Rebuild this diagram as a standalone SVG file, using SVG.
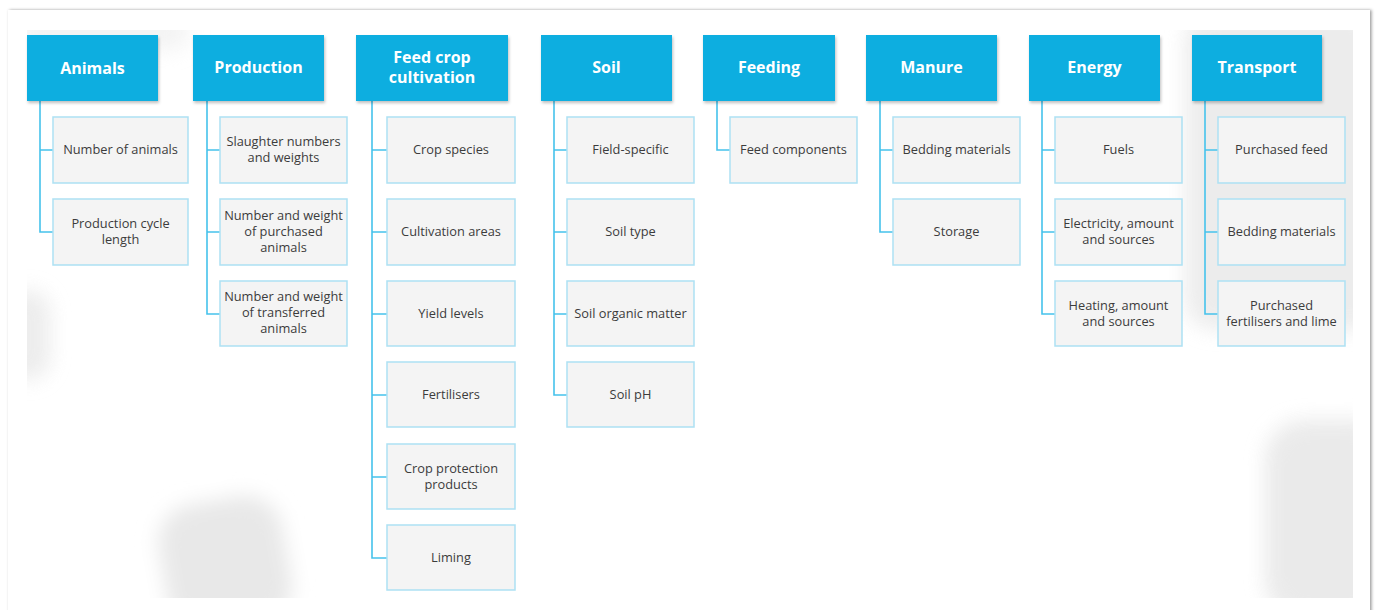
<svg xmlns="http://www.w3.org/2000/svg" width="1376" height="610" viewBox="0 0 1376 610">
<defs>
<style>
.hdr{fill:#0aaee0;filter:url(#hs)}
.ht{font-family:"Open Sans","Liberation Sans",sans-serif;font-weight:700;font-size:16px;fill:#ffffff;text-anchor:middle}
.box{fill:#f4f4f4;stroke:#ade1f3;stroke-width:1.5}
.bt{font-family:"Open Sans","Liberation Sans",sans-serif;font-size:12.8px;fill:#3c3c3c;text-anchor:middle}
.con{fill:none;stroke:#45c2ec;stroke-width:1.6}
.blob{fill:#e8e8e8;filter:url(#bl)}
</style>
<filter id="hs" x="-10%" y="-10%" width="130%" height="140%">
<feDropShadow dx="1" dy="2" stdDeviation="1.5" flood-color="#000" flood-opacity="0.25"/>
</filter>
<filter id="cs" x="-2%" y="-2%" width="104%" height="104%">
<feDropShadow dx="1.5" dy="0" stdDeviation="1.5" flood-color="#000" flood-opacity="0.4"/>
</filter>
<filter id="bl" x="-50%" y="-50%" width="200%" height="200%">
<feGaussianBlur stdDeviation="10"/>
</filter>
<clipPath id="inner"><rect x="27" y="30" width="1326" height="568"/></clipPath>
</defs>
<rect x="0" y="0" width="1376" height="610" fill="#ffffff"/>
<rect x="8" y="10" width="1362" height="620" fill="#ffffff" filter="url(#cs)"/>
<g id="background" clip-path="url(#inner)">
<rect x="20" y="10" width="170" height="40" rx="20" class="blob" opacity="0.5"/>
<rect x="5" y="290" width="45" height="90" rx="22" class="blob" opacity="0.8"/>
<rect x="162" y="500" width="125" height="130" rx="38" class="blob" transform="rotate(-10 222 560)"/>
<rect x="1265" y="420" width="130" height="200" rx="40" class="blob" opacity="0.9"/>
<rect x="1185" y="10" width="200" height="320" rx="30" class="blob" opacity="0.8"/>
</g>
<g id="connectors">
<path class="con" d="M40 101V232H53M40 150H53"/>
<path class="con" d="M207 101V314H220M207 150H220M207 232H220"/>
<path class="con" d="M372 101V558H387M372 150H387M372 232H387M372 314H387M372 395H387M372 477H387"/>
<path class="con" d="M554 101V395H567M554 150H567M554 232H567M554 314H567"/>
<path class="con" d="M717 101V150H730"/>
<path class="con" d="M880 101V232H893M880 150H893"/>
<path class="con" d="M1042 101V314H1055M1042 150H1055M1042 232H1055"/>
<path class="con" d="M1205 101V314H1218M1205 150H1218M1205 232H1218"/>
</g>
<g id="animals">
<rect class="hdr" x="27" y="35" width="131" height="66"/>
<text class="ht" x="92.5" y="74">Animals</text>
<rect class="box" x="53" y="117" width="135" height="66"/>
<text class="bt" x="120.5" y="154">Number of animals</text>
<rect class="box" x="53" y="199" width="135" height="66"/>
<text class="bt" x="120.5" y="228">Production cycle</text>
<text class="bt" x="120.5" y="244">length</text>
</g>
<g id="production">
<rect class="hdr" x="193" y="35" width="131" height="66"/>
<text class="ht" x="258.5" y="73">Production</text>
<rect class="box" x="220" y="117" width="127" height="66"/>
<text class="bt" x="283.5" y="146">Slaughter numbers</text>
<text class="bt" x="283.5" y="162">and weights</text>
<rect class="box" x="220" y="199" width="127" height="66"/>
<text class="bt" x="283.5" y="220">Number and weight</text>
<text class="bt" x="283.5" y="236">of purchased</text>
<text class="bt" x="283.5" y="252">animals</text>
<rect class="box" x="220" y="281" width="127" height="65"/>
<text class="bt" x="283.5" y="301">Number and weight</text>
<text class="bt" x="283.5" y="317">of transferred</text>
<text class="bt" x="283.5" y="333">animals</text>
</g>
<g id="feed-crop-cultivation">
<rect class="hdr" x="356" y="35" width="152" height="66"/>
<text class="ht" x="432" y="63">Feed crop</text>
<text class="ht" x="432" y="83">cultivation</text>
<rect class="box" x="387" y="117" width="128" height="66"/>
<text class="bt" x="451" y="154">Crop species</text>
<rect class="box" x="387" y="199" width="128" height="66"/>
<text class="bt" x="451" y="236">Cultivation areas</text>
<rect class="box" x="387" y="281" width="128" height="65"/>
<text class="bt" x="451" y="318">Yield levels</text>
<rect class="box" x="387" y="362" width="128" height="65"/>
<text class="bt" x="451" y="399">Fertilisers</text>
<rect class="box" x="387" y="444" width="128" height="65"/>
<text class="bt" x="451" y="473">Crop protection</text>
<text class="bt" x="451" y="489">products</text>
<rect class="box" x="387" y="525" width="128" height="65"/>
<text class="bt" x="451" y="562">Liming</text>
</g>
<g id="soil">
<rect class="hdr" x="541" y="35" width="131" height="66"/>
<text class="ht" x="606.5" y="73">Soil</text>
<rect class="box" x="567" y="117" width="127" height="66"/>
<text class="bt" x="630.5" y="154">Field-specific</text>
<rect class="box" x="567" y="199" width="127" height="66"/>
<text class="bt" x="630.5" y="236">Soil type</text>
<rect class="box" x="567" y="281" width="127" height="65"/>
<text class="bt" x="630.5" y="318">Soil organic matter</text>
<rect class="box" x="567" y="362" width="127" height="65"/>
<text class="bt" x="630.5" y="399">Soil pH</text>
</g>
<g id="feeding">
<rect class="hdr" x="703" y="35" width="132" height="66"/>
<text class="ht" x="769" y="73">Feeding</text>
<rect class="box" x="730" y="117" width="127" height="66"/>
<text class="bt" x="793.5" y="154">Feed components</text>
</g>
<g id="manure">
<rect class="hdr" x="866" y="35" width="131" height="66"/>
<text class="ht" x="931.5" y="73">Manure</text>
<rect class="box" x="893" y="117" width="127" height="66"/>
<text class="bt" x="956.5" y="154">Bedding materials</text>
<rect class="box" x="893" y="199" width="127" height="66"/>
<text class="bt" x="956.5" y="236">Storage</text>
</g>
<g id="energy">
<rect class="hdr" x="1029" y="35" width="131" height="66"/>
<text class="ht" x="1094.5" y="73">Energy</text>
<rect class="box" x="1055" y="117" width="127" height="66"/>
<text class="bt" x="1118.5" y="154">Fuels</text>
<rect class="box" x="1055" y="199" width="127" height="66"/>
<text class="bt" x="1118.5" y="228">Electricity, amount</text>
<text class="bt" x="1118.5" y="244">and sources</text>
<rect class="box" x="1055" y="281" width="127" height="65"/>
<text class="bt" x="1118.5" y="310">Heating, amount</text>
<text class="bt" x="1118.5" y="326">and sources</text>
</g>
<g id="transport">
<rect class="hdr" x="1192" y="35" width="130" height="66"/>
<text class="ht" x="1257" y="73">Transport</text>
<rect class="box" x="1218" y="117" width="127" height="66"/>
<text class="bt" x="1281.5" y="154">Purchased feed</text>
<rect class="box" x="1218" y="199" width="127" height="66"/>
<text class="bt" x="1281.5" y="236">Bedding materials</text>
<rect class="box" x="1218" y="281" width="127" height="65"/>
<text class="bt" x="1281.5" y="310">Purchased</text>
<text class="bt" x="1281.5" y="326">fertilisers and lime</text>
</g>
</svg>
